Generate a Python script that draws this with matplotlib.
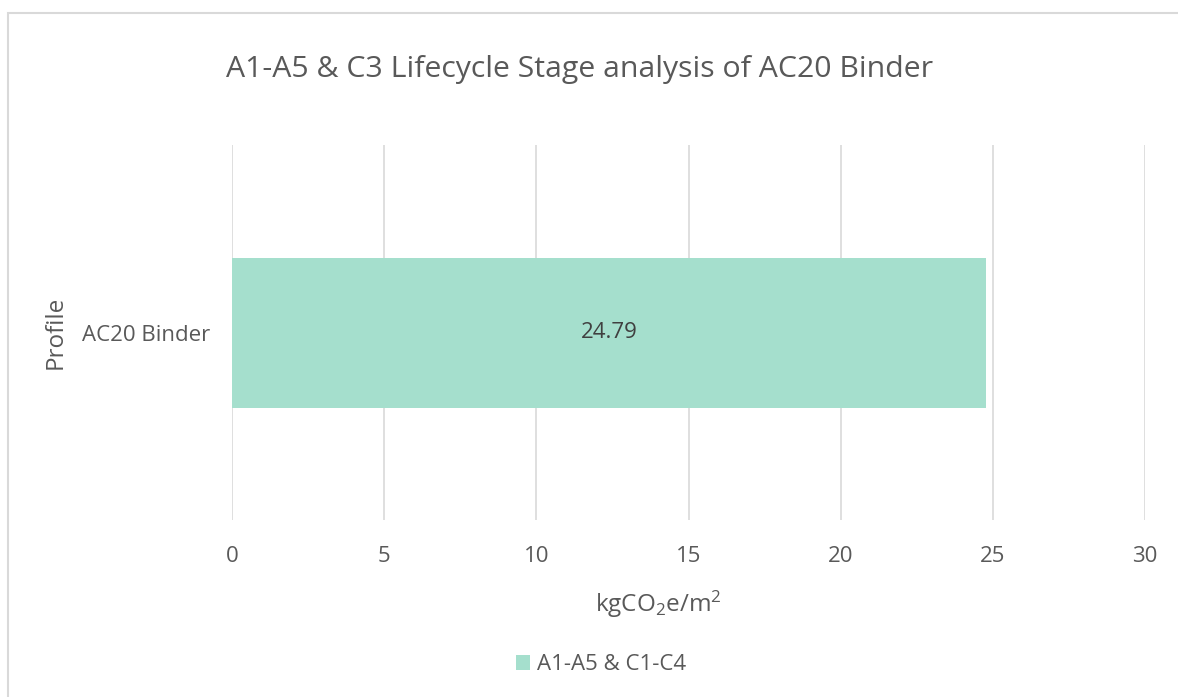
import matplotlib
matplotlib.use("Agg")
import matplotlib.pyplot as plt
from matplotlib.patches import Rectangle

categories = ["AC20 Binder"]
values = [24.79]
series_name = "A1-A5 & C1-C4"
xticks = [0, 5, 10, 15, 20, 25, 30]

FONT = "Open Sans"
plt.rcParams['font.family'] = [FONT, 'DejaVu Sans']
plt.rcParams['mathtext.fontset'] = 'custom'
plt.rcParams['mathtext.rm'] = FONT
plt.rcParams['mathtext.it'] = FONT
plt.rcParams['mathtext.default'] = 'rm'

TXT = "#595959"
GRID = "#D9D9D9"
BAR = "#A5DFCD"

W, H = 1178, 697
fig = plt.figure(figsize=(W/100, H/100), dpi=100)
fig.patch.set_facecolor("white")

# outer chart border
fig.add_artist(Rectangle((8/W, -0.01), 1.0, 1 - 13/H + 0.01, transform=fig.transFigure,
                         fill=False, edgecolor=GRID, linewidth=1.5))

ax = fig.add_axes([232/W, 1 - 520/H, (1145-232)/W, (520-145)/H])
ypos = list(range(len(categories)))
bars = ax.barh(ypos, values, height=0.4, color=BAR, label=series_name, zorder=3)
for b, v in zip(bars, values):
    ax.text(b.get_width()/2, b.get_y() + b.get_height()/2, f"{v:.2f}",
            ha="center", va="center", color="#404040", fontsize=16, zorder=4)

ax.set_xlim(0, 30)
ax.set_ylim(-0.5, 0.5)
ax.set_xticks(xticks)
ax.set_xticklabels([str(t) for t in xticks])
ax.set_yticks(ypos)
ax.set_yticklabels(categories)
ax.grid(axis="x", color=GRID, linewidth=1.2, zorder=0)
ax.grid(axis="y", visible=False)
for s in ax.spines.values():
    s.set_visible(False)
ax.tick_params(axis="both", length=0, labelsize=16, colors=TXT)
ax.tick_params(axis="x", pad=19)
ax.tick_params(axis="y", pad=16)

ax.set_xlabel("kgCO$_2$e/m$^2$", fontsize=17.5, color=TXT, va="center")
ax.xaxis.set_label_coords((658 - 232) / 913, (520 - 604) / 375)
ax.set_ylabel("Profile", fontsize=17.5, color=TXT, va="center")
ax.yaxis.set_label_coords((56 - 232) / 913, 0.5)

fig.text(580/W, 1 - 70/H, "A1-A5 & C3 Lifecycle Stage analysis of AC20 Binder",
         ha="center", va="center", fontsize=21.8, color=TXT)

leg = fig.legend(handles=[bars], labels=[series_name], loc="center",
                 bbox_to_anchor=(601/W, 1 - 665/H), frameon=False,
                 fontsize=16, handlelength=0.65, handleheight=0.65, handletextpad=0.3)
for t in leg.get_texts():
    t.set_color(TXT)

fig.savefig("out.png", dpi=100, facecolor="white")
